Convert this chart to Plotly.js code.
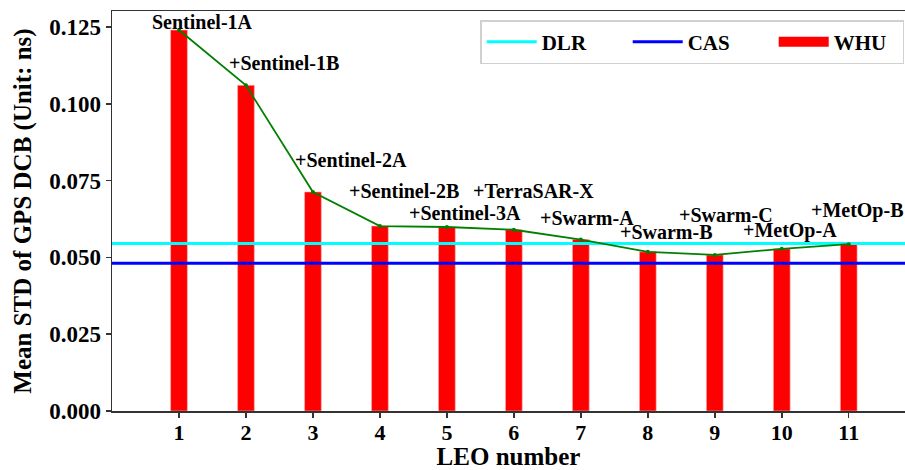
<!DOCTYPE html>
<html>
<head>
<meta charset="utf-8">
<script src="https://cdn.plot.ly/plotly-3.0.1.min.js"></script>
<style>html,body{margin:0;padding:0;background:#fff;}#chart{width:905px;height:470px;}</style>
</head>
<body>
<div id="chart"></div>
<script>
// ---- data ----
const leoNumbers = [1, 2, 3, 4, 5, 6, 7, 8, 9, 10, 11];
const whuStd = [0.1240, 0.1060, 0.0713, 0.0602, 0.0599, 0.0590, 0.0558, 0.0518, 0.0508, 0.0528, 0.0543];
const satelliteLabels = ["Sentinel-1A", "+Sentinel-1B", "+Sentinel-2A", "+Sentinel-2B", "+Sentinel-3A",
  "+TerraSAR-X", "+Swarm-A", "+Swarm-B", "+Swarm-C", "+MetOp-A", "+MetOp-B"];
const dlrStd = 0.0545;
const casStd = 0.0481;
const yTickVals = [0, 0.025, 0.05, 0.075, 0.1, 0.125];
const yTickText = ["0.000", "0.025", "0.050", "0.075", "0.100", "0.125"];

// ---- label offsets (pixels, layout only) ----
const labelDx = [24, 38, 38, 24, 18, 20, 6, 19, 11, 8, 9];
const labelDy = [8, 22, 32, 35, 14, 39, 22, 20, 40, 18, 34];

const xRange = [0, 11.84];
const font = "Liberation Serif, Times New Roman, serif";

const traces = [
  {x: xRange, y: [dlrStd, dlrStd], type: "scatter", mode: "lines", name: "DLR",
   line: {color: "#00ffff", width: 3}},
  {x: xRange, y: [casStd, casStd], type: "scatter", mode: "lines", name: "CAS",
   line: {color: "#0000ff", width: 3}},
  {x: leoNumbers, y: whuStd, type: "bar", name: "WHU", width: 0.25, showlegend: false,
   marker: {color: "#ff0000", line: {color: "#ffb0b0", width: 0.6}}},
  {x: [null], y: [null], type: "scatter", mode: "lines", name: "WHU", legendwidth: 64,
   line: {color: "#ff0000", width: 11}},
  {x: leoNumbers, y: whuStd, type: "scatter", mode: "lines+markers", showlegend: false,
   line: {color: "#008000", width: 1.8}, marker: {color: "#008000", size: 4}}
];

const annotations = satelliteLabels.map((t, i) => ({
  x: leoNumbers[i], y: whuStd[i], xref: "x", yref: "y", text: "<b>" + t + "</b>",
  showarrow: false, xshift: labelDx[i], yshift: labelDy[i], borderpad: 0,
  font: {family: font, size: 20, color: "#000"}
}));

const layout = {
  width: 905, height: 470,
  margin: {l: 112, r: 0, t: 11, b: 59},
  paper_bgcolor: "#fff", plot_bgcolor: "#fff",
  showlegend: true,
  legend: {orientation: "h", x: 0.999, y: 0.977, xanchor: "right", yanchor: "top",
    bgcolor: "#fff", bordercolor: "#d0d0d0", borderwidth: 1.5, itemwidth: 50,
    entrywidth: 81, entrywidthmode: "pixels", traceorder: "normal",
    font: {family: font, size: 21, color: "#000", weight: "bold"}},
  xaxis: {range: xRange, tickvals: leoNumbers, ticktext: leoNumbers.map(String),
    showgrid: false, zeroline: false, showline: true, mirror: true, linecolor: "#333", linewidth: 1.5,
    ticks: "outside", ticklen: 5, tickwidth: 1.5, tickcolor: "#333", ticklabelstandoff: -4,
    tickfont: {family: font, size: 22, color: "#000", weight: "bold"},
    title: {text: "<b>LEO number</b>", font: {family: font, size: 25, color: "#000"}, standoff: 13}},
  yaxis: {range: [0, 0.1302], tickvals: yTickVals, ticktext: yTickText,
    showgrid: false, zeroline: false, showline: true, linecolor: "#333", linewidth: 1.5,
    ticks: "outside", ticklen: 5, tickwidth: 1.5, tickcolor: "#333",
    tickfont: {family: font, size: 23, color: "#000", weight: "bold"},
    title: {text: "<b>Mean STD of GPS DCB (Unit: ns)</b>", font: {family: font, size: 25, color: "#000"}, standoff: 10}},
  annotations: annotations
};

Plotly.newPlot("chart", traces, layout, {displayModeBar: false, staticPlot: true});
</script>
</body>
</html>
